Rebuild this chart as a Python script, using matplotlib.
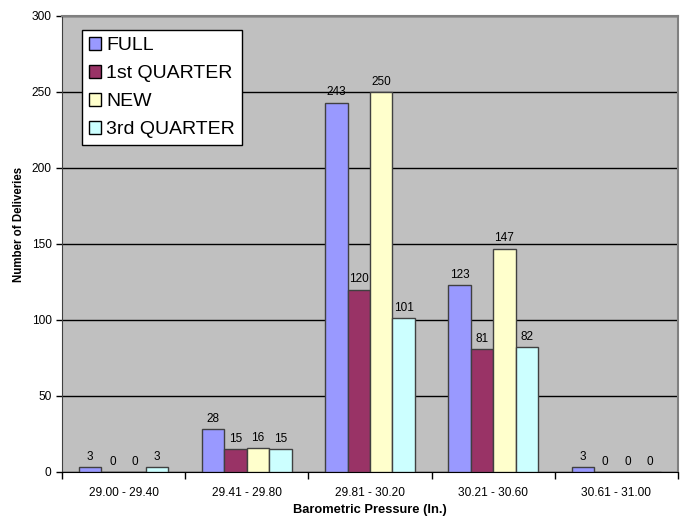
import matplotlib
matplotlib.use("Agg")
import matplotlib.pyplot as plt
import numpy as np

plt.rcParams['font.family'] = ['Liberation Sans', 'DejaVu Sans']

categories = ["29.00 - 29.40", "29.41 - 29.80", "29.81 - 30.20", "30.21 - 30.60", "30.61 - 31.00"]
series_names = ["FULL", "1st QUARTER", "NEW", "3rd QUARTER"]
full = [3, 28, 243, 123, 3]
first_quarter = [0, 15, 120, 81, 0]
new = [0, 16, 250, 147, 0]
third_quarter = [3, 15, 101, 82, 0]
series_values = [full, first_quarter, new, third_quarter]
colors = ["#9999FF", "#993366", "#FFFFCC", "#CCFFFF"]
y_ticks = [0, 50, 100, 150, 200, 250, 300]

fig = plt.figure(figsize=(6.85, 5.20), dpi=100)
ax = fig.add_axes([62 / 685, 48 / 520, 616 / 685, 456 / 520])
ax.set_facecolor("#C0C0C0")

x = np.arange(len(categories))
n = len(series_values)
width = 1.0 / (n + 1.5)

for i, (name, vals, col) in enumerate(zip(series_names, series_values, colors)):
    pos = x + (i - (n - 1) / 2) * width
    bars = ax.bar(pos, vals, width, color=col, edgecolor="#404040",
                  linewidth=1.0, label=name, zorder=3)
    for b, v in zip(bars, vals):
        ax.annotate(str(v), (b.get_x() + b.get_width() / 2, v),
                    xytext=(0, 3), textcoords="offset points",
                    ha="center", va="bottom", fontsize=8.5, color="black", zorder=4)

ax.set_xlim(-0.5, len(categories) - 0.5)
ax.set_ylim(0, 300)
ax.set_yticks(y_ticks)
ax.yaxis.grid(True, color="black", linewidth=1.0, zorder=1)
ax.set_axisbelow(True)
ax.tick_params(axis="y", labelsize=8.6, length=4, width=1, direction="out", color="black")

# category boundaries carry the tick marks, labels sit at the centres
ax.set_xticks(np.arange(-0.5, len(categories), 1.0))
ax.set_xticklabels([])
ax.set_xticks(x, minor=True)
ax.set_xticklabels(categories, minor=True, fontsize=8.6)
ax.tick_params(axis="x", which="major", length=5, width=1, direction="out", color="black")
ax.tick_params(axis="x", which="minor", length=0, pad=10.5)

for side in ("top", "right"):
    ax.spines[side].set_color("#808080")
    ax.spines[side].set_linewidth(1.5)
ax.spines["left"].set_color("#404040")
ax.spines["bottom"].set_color("black")

ax.set_xlabel("Barometric Pressure (In.)", fontsize=9.3, fontweight="bold")
ax.xaxis.set_label_coords(0.5, (472 - 510) / 456)
ax.xaxis.label.set_va("center")
ax.set_ylabel("Number of Deliveries", fontsize=8.3, fontweight="bold")
ax.yaxis.set_label_coords((18.5 - 62) / 616, (472 - 224) / 456)
ax.yaxis.label.set_va("center")

leg = ax.legend(loc="upper left", bbox_to_anchor=(20 / 616, (472 - 30) / 456),
                borderaxespad=0, fontsize=14, frameon=True, fancybox=False,
                framealpha=1, edgecolor="black", handlelength=0.65,
                handleheight=0.65, handletextpad=0.25, labelspacing=0.55,
                borderpad=0.35)
leg.get_frame().set_linewidth(1.0)
for h in leg.legend_handles:
    h.set_edgecolor("black")
leg.set_zorder(5)

fig.savefig("out.png", dpi=100, facecolor="white")
